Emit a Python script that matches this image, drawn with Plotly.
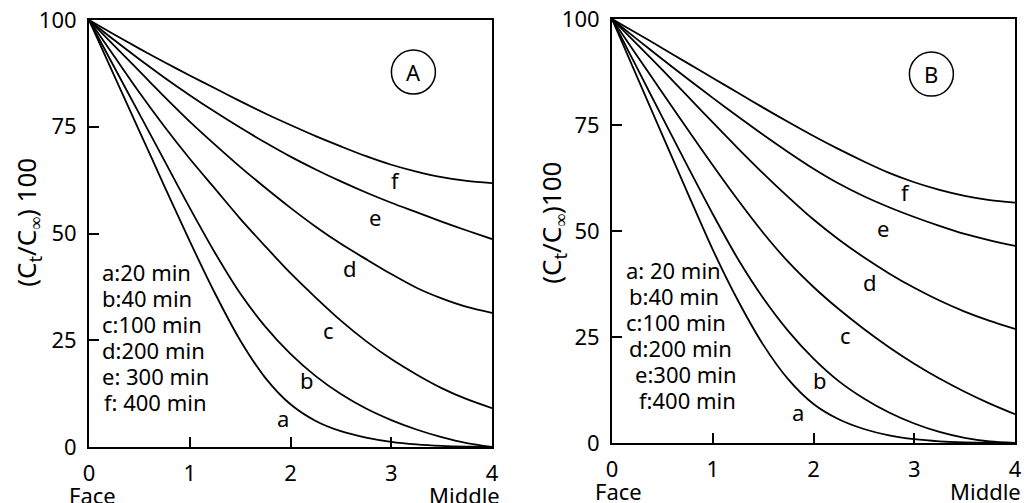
import plotly.graph_objects as go

# ---- data ----
x_pos = [0, 0.25, 0.5, 0.75, 1, 1.25, 1.5, 1.75, 2, 2.25, 2.5, 2.75, 3, 3.25, 3.5, 3.75, 4]
curve_names = ["a", "b", "c", "d", "e", "f"]
legend_labels_a = ["a:20 min", "b:40 min", "c:100 min", "d:200 min", "e: 300 min", "f: 400 min"]
legend_labels_b = ["a: 20 min", "b:40 min", "c:100 min", "d:200 min", "e:300 min", "f:400 min"]

A_a = [100, 87, 74, 61, 48.2, 36, 25, 16.2, 10, 6.1, 3.7, 2.2, 1.2, 0.6, 0.25, 0.08, 0]
A_b = [100, 89, 78, 67, 56, 45.5, 36, 28.2, 21.8, 16.6, 12.4, 9, 6.3, 4.1, 2.3, 0.9, 0]
A_c = [100, 91.5, 83, 75, 67.5, 60.5, 53.5, 47, 40.7, 35, 29.6, 24.8, 20.6, 17, 13.8, 11.2, 9.1]
A_d = [100, 94, 88, 82, 76.2, 70.8, 65.6, 60.7, 56, 51.6, 47.6, 44, 40.5, 37.3, 34.8, 32.8, 31.4]
A_e = [100, 95.3, 90.8, 86.5, 82.4, 78.5, 74.8, 71.3, 68, 65, 62.2, 59.6, 57.2, 55, 52.8, 50.7, 48.7]
A_f = [100, 96.6, 93.3, 90.1, 87, 84, 81, 78.1, 75.4, 72.8, 70.4, 68.1, 66.1, 64.5, 63.2, 62.3, 61.8]

B_a = [100, 86.3, 72.6, 59, 45.6, 33.6, 23.2, 15, 9.2, 5.6, 3.3, 1.8, 0.9, 0.4, 0.15, 0.04, 0]
B_b = [100, 88.4, 76.8, 65.3, 54, 43.4, 34.2, 26.4, 19.9, 14.6, 10.5, 7.2, 4.6, 2.6, 1.2, 0.35, 0]
B_c = [100, 91.3, 82.6, 74, 65.5, 57.3, 49.6, 42.7, 36.8, 31.6, 26.9, 22.6, 18.7, 15.2, 12.1, 9.3, 6.8]
B_d = [100, 94, 88, 81.8, 75.6, 69.5, 63.6, 58, 52.7, 48, 43.8, 40, 36.6, 33.6, 31, 28.8, 26.9]
B_e = [100, 95.2, 90.5, 85.9, 81.4, 77, 72.7, 68.6, 64.7, 61.2, 58.2, 55.6, 53.3, 51.2, 49.3, 47.8, 46.5]
B_f = [100, 96.6, 93.1, 89.6, 86.1, 82.6, 79.1, 75.7, 72.4, 69.3, 66.4, 63.7, 61.5, 59.7, 58.3, 57.3, 56.7]

# curve label positions (x, y)
A_lab_x = [1.93, 2.16, 2.38, 2.59, 2.84, 3.04]
A_lab_y = [6.8, 15.7, 27.4, 41.9, 53.9, 62.5]
B_lab_x = [1.85, 2.06, 2.32, 2.56, 2.69, 2.91]
B_lab_y = [7.4, 14.9, 25.5, 38.0, 50.6, 59.3]

x_ticks = [0, 1, 2, 3, 4]
y_ticks = [0, 25, 50, 75, 100]

FONT = "Noto Sans"
FS = 22
fig = go.Figure()

panels = [
    ([A_a, A_b, A_c, A_d, A_e, A_f], A_lab_x, A_lab_y, "x", "y"),
    ([B_a, B_b, B_c, B_d, B_e, B_f], B_lab_x, B_lab_y, "x2", "y2"),
]

for series, lx, ly, xr, yr in panels:
    for name, ys in zip(curve_names, series):
        fig.add_trace(go.Scatter(x=x_pos, y=ys, mode="lines", name=name,
                                 line=dict(color="black", width=1.8, shape="spline", smoothing=0.8),
                                 xaxis=xr, yaxis=yr, showlegend=False, hoverinfo="skip"))
    for name, xx, yy in zip(curve_names, lx, ly):
        fig.add_annotation(x=xx, y=yy, xref=xr, yref=yr, text=name, showarrow=False,
                           font=dict(family=FONT, size=FS, color="black"))

# legend-like text blocks (pixel offsets from plot corners)
A_leg_px = [100, 100, 100, 100, 100, 102]
B_leg_px = [624, 627, 624, 627, 633, 637]
for i, txt in enumerate(legend_labels_a):
    fig.add_annotation(x=(A_leg_px[i] - 89) / 100.75, y=(447 - (271.7 + 26 * i)) / 4.27,
                       xref="x", yref="y", text=txt, showarrow=False, xanchor="left",
                       font=dict(family=FONT, size=FS, color="black"))
for i, txt in enumerate(legend_labels_b):
    fig.add_annotation(x=(B_leg_px[i] - 612) / 100.75, y=(443 - (270 + 26 * i)) / 4.24,
                       xref="x2", yref="y2", text=txt, showarrow=False, xanchor="left",
                       font=dict(family=FONT, size=FS, color="black"))

# circled panel letters
for letter, cx, cy, xr, yr in [("A", 3.22, 87.8, "x", "y"), ("B", 3.17, 87.0, "x2", "y2")]:
    fig.add_annotation(x=cx, y=cy, xref=xr, yref=yr, text=letter, showarrow=False,
                       font=dict(family=FONT, size=FS, color="black"))
    fig.add_shape(type="circle", xref=xr, yref=yr, xsizemode="pixel", ysizemode="pixel",
                  xanchor=cx, yanchor=cy, x0=-22, x1=22, y0=-22, y1=22,
                  line=dict(color="black", width=1.5))

# Face / Middle
for xr, yr, fshift, mshift in [("x", "y", 3, 10), ("x2", "y2", 6, 8)]:
    fig.add_annotation(x=0, y=0, xref=xr, yref=yr, text="Face", showarrow=False,
                       xanchor="center", yanchor="middle", xshift=fshift, yshift=-48,
                       font=dict(family=FONT, size=FS, color="black"))
    fig.add_annotation(x=4, y=0, xref=xr, yref=yr, text="Middle", showarrow=False,
                       xanchor="right", yanchor="middle", xshift=mshift, yshift=-48,
                       font=dict(family=FONT, size=FS, color="black"))

# y titles
fig.add_annotation(x=27 / 1026, y=0.557, xref="paper", yref="paper", xanchor="center", yanchor="middle",
                   text="(C<sub>t</sub>/C<sub>∞</sub>) 100", textangle=-90, showarrow=False,
                   font=dict(family=FONT, size=26, color="black"))
fig.add_annotation(x=552 / 1026, y=0.557, xref="paper", yref="paper", xanchor="center", yanchor="middle",
                   text="(C<sub>t</sub>/C<sub>∞</sub>)100", textangle=-90, showarrow=False,
                   font=dict(family=FONT, size=26, color="black"))

axis_common = dict(showline=True, linecolor="black", linewidth=2, mirror=True,
                   ticks="inside", ticklen=10, tickwidth=2, tickcolor="black",
                   showgrid=False, zeroline=False, automargin=False,
                   tickfont=dict(family=FONT, size=FS, color="black"))

fig.update_layout(
    width=1026, height=503,
    margin=dict(l=0, r=0, t=0, b=0),
    paper_bgcolor="white", plot_bgcolor="white",
    xaxis=dict(domain=[89 / 1026, 492 / 1026], range=[0, 4], tickvals=x_ticks, anchor="y",
               ticklabelstandoff=6, **axis_common),
    yaxis=dict(domain=[56 / 503, 483 / 503], range=[0, 100], tickvals=y_ticks, anchor="x",
               ticklabelstandoff=6, **axis_common),
    xaxis2=dict(domain=[612 / 1026, 1015 / 1026], range=[0, 4], tickvals=x_ticks, anchor="y2",
                ticklabelstandoff=6, **axis_common),
    yaxis2=dict(domain=[60 / 503, 484 / 503], range=[0, 100], tickvals=y_ticks, anchor="x2",
                ticklabelstandoff=6, **axis_common),
)

fig.write_html("out.html", config={"displayModeBar": False},
               post_script="document.body.style.margin='0px';")
